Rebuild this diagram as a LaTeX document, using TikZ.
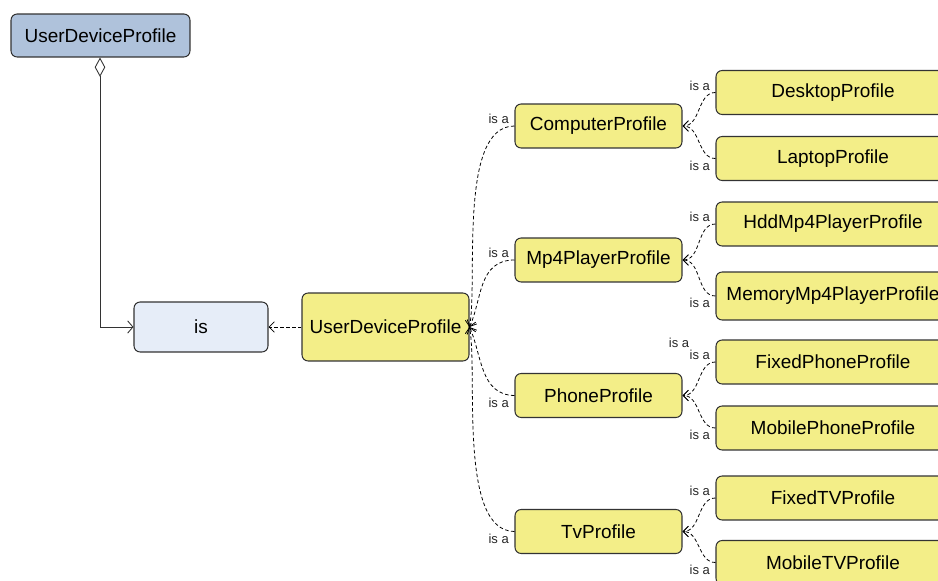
\documentclass[tikz,border=0pt]{standalone}
\usepackage{fontspec}
\setmainfont{Liberation Sans}
\usetikzlibrary{arrows.meta}

\definecolor{steelfill}{HTML}{AFC2DB}
\definecolor{palefill}{HTML}{E6EDF8}
\definecolor{yellowfill}{HTML}{F3EE88}
\definecolor{edgegray}{HTML}{333333}

\tikzset{
  box/.style={draw=edgegray, rounded corners=3.5pt, line width=0.6pt,
              inner sep=0pt, font=\fontsize{10.8}{12}\selectfont},
  profile/.style={box, fill=yellowfill, minimum width=3.34cm, minimum height=0.88cm},
  leaf/.style={box, fill=yellowfill, minimum width=4.68cm, minimum height=0.88cm},
  isa/.style={draw=black, line width=0.45pt, dash pattern=on 2pt off 1.4pt,
              -{Straight Barb[length=3pt,width=6pt]}},
  isalbl/.style={font=\fontsize{7.4}{8.5}\selectfont, text=black!85, inner sep=1pt}
}

\begin{document}
\begin{tikzpicture}[x=0.02cm,y=-0.02cm]
\useasboundingbox (0,0) rectangle (938,581);
\clip (0,0) rectangle (938,581);

% whole and the "is" relation
\node[box, fill=steelfill, minimum width=3.58cm, minimum height=0.86cm] (owner) at (100.5,35.5) {UserDeviceProfile};
\node[box, fill=palefill, minimum width=2.68cm, minimum height=1.0cm] (rel) at (201,327) {is};
\node[box, fill=yellowfill, minimum width=3.34cm, minimum height=1.36cm] (udp) at (385.5,327) {UserDeviceProfile};

% second level
\node[profile] (comp)  at (598.5,126) {ComputerProfile};
\node[profile] (mp4)   at (598.5,260) {Mp4PlayerProfile};
\node[profile] (phone) at (598.5,395.5) {PhoneProfile};
\node[profile] (tv)    at (598.5,531.5) {TvProfile};

% leaves
\node[leaf] (desk)   at (833,92.5) {DesktopProfile};
\node[leaf] (lap)    at (833,158.5) {LaptopProfile};
\node[leaf] (hdd)    at (833,224) {HddMp4PlayerProfile};
\node[leaf, minimum height=0.96cm] (mem) at (833,296) {MemoryMp4PlayerProfile};
\node[leaf] (fixph)  at (833,362) {FixedPhoneProfile};
\node[leaf] (mobph)  at (833,428) {MobilePhoneProfile};
\node[leaf] (fixtv)  at (833,498) {FixedTVProfile};
\node[leaf] (mobtv)  at (833,562.5) {MobileTVProfile};

\draw[edgegray, line width=0.5pt, {Diamond[open,length=11pt,width=6pt]}-{Straight Barb[length=3pt,width=7pt]}]
  (owner.south -| 100,0) |- (rel.west);
\draw[isa] (udp.west) -- (rel.east);

\draw[isa] (comp.west) .. controls (458,126) and (478,280) .. (udp.east)
  node (lcomp) [isalbl, pos=0, anchor=south east, xshift=-2pt] {is a};
\draw[isa] (mp4.west) .. controls (478,260) and (482,300) .. (udp.east)
  node (lmp4) [isalbl, pos=0, anchor=south east, xshift=-2pt] {is a};
\draw[isa] (phone.west) .. controls (480,395) and (482,355) .. (udp.east)
  node (lphone) [isalbl, pos=0, anchor=north east, xshift=-2pt] {is a};
\draw[isa] (tv.west) .. controls (458,531) and (478,375) .. (udp.east)
  node (ltv) [isalbl, pos=0, anchor=north east, xshift=-2pt] {is a};

\foreach \kid/\up/\side in {desk/comp/{south east}, lap/comp/{north east},
                            hdd/mp4/{south east}, mem/mp4/{north east},
                            fixph/phone/{south east}, mobph/phone/{north east},
                            fixtv/tv/{south east}, mobtv/tv/{north east}}{
  \draw[isa] (\kid.west) to[out=180,in=0] (\up.east);
  \node (l\kid) [isalbl, anchor=\side, xshift=-2pt] at (\kid.west) {is a};
}

\node (lextra) [isalbl] at (679,343) {is a};
\end{tikzpicture}
\end{document}
